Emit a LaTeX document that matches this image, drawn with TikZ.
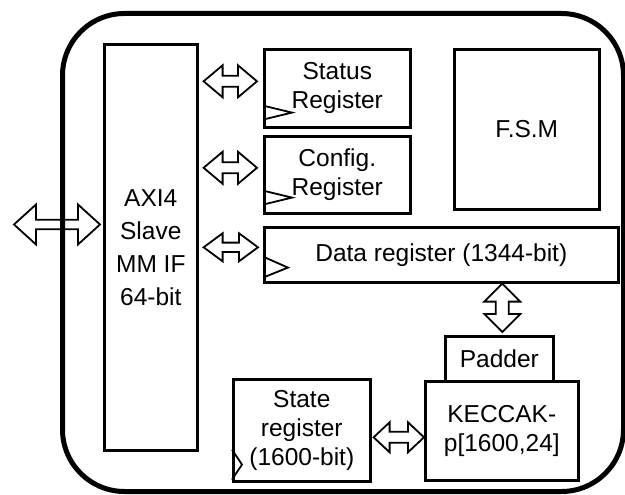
\documentclass[tikz,border=0pt]{standalone}
\usepackage{fontspec}
\setmainfont{Liberation Sans}
\usetikzlibrary{calc}
\tikzset{
  box/.style={draw, line width=2.6pt, anchor=north west, inner sep=0pt, align=center,
    font=\fontsize{24.5}{29}\selectfont},
  dar/.style={draw, line width=1.8pt, line join=miter},
  clk/.style={draw, line width=1.8pt}
}
% horizontal double arrow: #1 left tip, #2 right tip, #3 head half-height, #4 shaft half-height, #5 head length
\newcommand{\dah}[5]{%
  \draw[dar] let \p1=(#1), \p2=(#2) in
    (\x1,\y1) -- (\x1+#5,\y1+#3) -- (\x1+#5,\y1+#4) -- (\x2-#5,\y1+#4) -- (\x2-#5,\y1+#3)
    -- (\x2,\y1) -- (\x2-#5,\y1-#3) -- (\x2-#5,\y1-#4) -- (\x1+#5,\y1-#4) -- (\x1+#5,\y1-#3) -- cycle;}
% vertical double arrow: #1 top tip, #2 bottom tip
\newcommand{\dav}[5]{%
  \draw[dar] let \p1=(#1), \p2=(#2) in
    (\x1,\y1) -- (\x1+#3,\y1-#5) -- (\x1+#4,\y1-#5) -- (\x1+#4,\y2+#5) -- (\x1+#3,\y2+#5)
    -- (\x1,\y2) -- (\x1-#3,\y2+#5) -- (\x1-#4,\y2+#5) -- (\x1-#4,\y1-#5) -- (\x1-#3,\y1-#5) -- cycle;}
\begin{document}
\begin{tikzpicture}[x=1pt,y=-1pt]
\useasboundingbox (0,0) rectangle (625,495);
% outer border
\node[draw, line width=5pt, rounded corners=62pt, anchor=north west, minimum width=561pt,
  minimum height=478pt, inner sep=0pt] (chip) at (60,11) {};

\node[box, minimum width=93pt, minimum height=406pt,
  font=\fontsize{24.5}{33}\selectfont] (axi) at (103,43) {AXI4\\Slave\\MM IF\\64-bit};
\node[box, minimum width=146pt, minimum height=78pt] (status) at (263,48) {Status\\Register};
\node[box, minimum width=146pt, minimum height=77pt] (config) at (263,135) {Config.\\Register};
\node[box, minimum width=145pt, minimum height=160pt] (fsm) at (453,48) {F.S.M};
\node[box, minimum width=354pt, minimum height=55pt] (data) at (263,226) {Data register (1344-bit)};
\node[box, minimum width=108pt, minimum height=45pt] (padder) at (444,335) {Padder};
\node[box, minimum width=153pt, minimum height=99pt] (keccak) at (424,380) {KECCAK-\\p[1600,24]};
\node[box, minimum width=137pt, minimum height=102pt] (state) at (232,378) {State\\register\\(1600-bit)};

% clock triangles
\draw[clk] ($(status.south west)+(0,-23)$) -- ++(29,7) -- ++(-29,7);
\draw[clk] ($(config.south west)+(0,-24)$) -- ++(29,7) -- ++(-29,7);
\draw[clk] ($(data.south west)+(0,-27)$) -- ++(25,11) -- ++(-25,10);
\draw[clk] ($(state.south west)+(0,-33)$) -- ++(10,15) -- ++(-10,15);

% double arrows
\coordinate (ext) at (14,224.5);
\dah{ext}{$(axi.west)+(-3,-21.5)$}{20pt}{4.7pt}{22pt}
\dah{$(axi.east|-status.west)+(5,-7)$}{$(status.west)+(-6,-7)$}{16pt}{5.5pt}{19pt}
\dah{$(axi.east|-config.west)+(5,-7)$}{$(config.west)+(-6,-7)$}{16pt}{5.5pt}{19pt}
\dah{$(axi.east|-data.west)+(5,-7.5)$}{$(data.west)+(-5,-7.5)$}{14pt}{4.7pt}{19pt}
\dav{$(data.south-|padder.north)+(3,0)$}{$(padder.north)+(3,-3)$}{18pt}{6.5pt}{18pt}
\dah{$(state.east)+(2,7)$}{$(keccak.west|-state.east)+(0,7)$}{15pt}{5.5pt}{16pt}
\end{tikzpicture}
\end{document}
